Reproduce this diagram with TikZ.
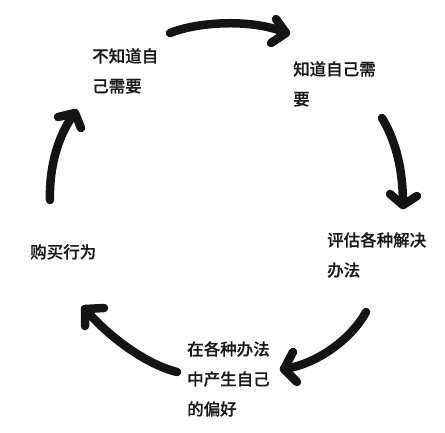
\documentclass[tikz,border=0pt]{standalone}
\usepackage{fontspec}
\newfontfamily\cjk{Noto Sans CJK SC Medium}[UprightFeatures={FakeBold=0.3}]
\begin{document}
\begin{tikzpicture}[x=1pt,y=-1pt,
  arc/.style={line width=8.5pt,line cap=round,line join=round,draw=black!92},
  lbl/.style={anchor=north west,inner sep=0pt,align=left,font=\cjk\fontsize{16.5}{30}\selectfont,text=black!90}]
\useasboundingbox (0,0) rectangle (445,432);
% labels
\node[lbl] (t1) at (92,48) {不知道自\\己需要};
\node[lbl] (t2) at (293,61) {知道自己需\\要};
\node[lbl] (t3) at (327,232) {评估各种解决\\办法};
\node[lbl] (t4) at (30,244) {购买行为};
\node[lbl] (t5) at (187,341) {在各种办法\\中产生自己\\的偏好};
% arrow end points
\coordinate (s1) at (170,33);  \coordinate (e1) at (286,33);
\coordinate (s2) at (382,118); \coordinate (e2) at (403,205);
\coordinate (s3) at (366,312); \coordinate (e3) at (284,369);
\coordinate (s4) at (177,372); \coordinate (e4) at (85,309);
\coordinate (s5) at (50,200);  \coordinate (e5) at (75,113);
% arrows
\draw[arc] (s1) .. controls (200,21) and (255,19) .. (e1);
\draw[arc] (276,19) -- (e1) -- (271,43);
\draw[arc] (s2) .. controls (394,138) and (403,165) .. (e2);
\draw[arc] (390,194) -- (e2) -- (417,196);
\draw[arc] (s3) .. controls (352,338) and (318,364) .. (e3);
\draw[arc] (293,352) -- (e3) -- (297,382);
\draw[arc] (s4) .. controls (145,364) and (108,336) .. (e4);
\draw[arc] (104,308) -- (e4) -- (85,326);
\draw[arc] (s5) .. controls (49,168) and (58,134) .. (e5);
\draw[arc] (58,117) -- (e5) -- (81,128);
\end{tikzpicture}
\end{document}
